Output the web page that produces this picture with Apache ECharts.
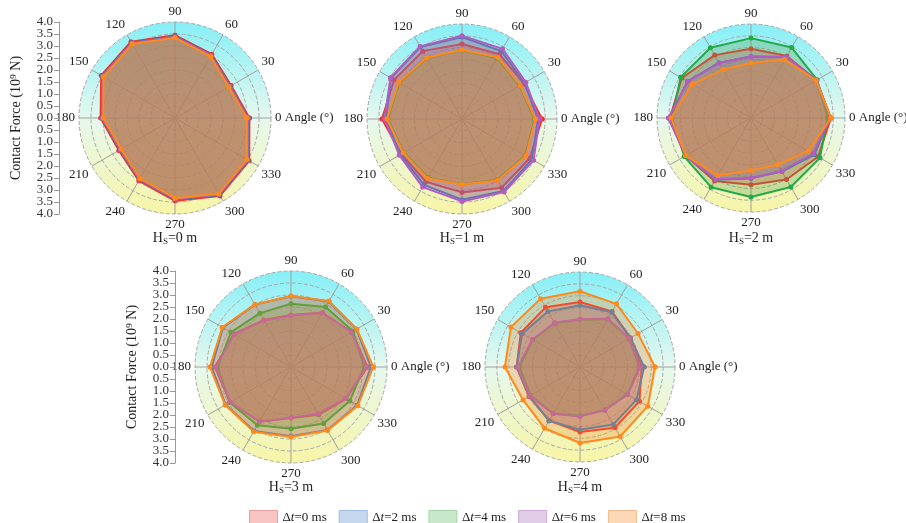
<!DOCTYPE html>
<html><head><meta charset="utf-8">
<script src="https://cdn.jsdelivr.net/npm/echarts/dist/echarts.min.js"></script>
<style>html,body{margin:0;padding:0;background:#fff}#c{width:906px;height:523px}</style>
</head><body><div id="c"></div><script>
const angles = [0, 30, 60, 90, 120, 150, 180, 210, 240, 270, 300, 330];
const seriesNames = ['Δt=0 ms', 'Δt=2 ms', 'Δt=4 ms', 'Δt=6 ms', 'Δt=8 ms'];
const panelTitles = ['0 m', '1 m', '2 m', '3 m', '4 m'];

// Contact force (10^9 N) per angle, rows = Δt 0,2,4,6,8 ms
const hs0 = [
  [3.10, 2.70, 3.07, 3.45, 3.67, 3.55, 3.10, 2.70, 3.02, 3.45, 3.75, 3.57],
  [3.05, 2.65, 3.02, 3.40, 3.62, 3.50, 3.05, 2.65, 2.97, 3.40, 3.70, 3.52],
  [3.03, 2.63, 3.00, 3.38, 3.60, 3.48, 3.03, 2.63, 2.95, 3.38, 3.68, 3.50],
  [3.03, 2.63, 3.00, 3.38, 3.60, 3.48, 3.03, 2.63, 2.95, 3.38, 3.68, 3.50],
  [2.99, 2.59, 2.96, 3.34, 3.56, 3.44, 2.99, 2.59, 2.91, 3.34, 3.64, 3.46]
];
const hs1 = [
  [3.37, 3.00, 3.15, 3.16, 3.30, 3.30, 3.37, 2.95, 3.05, 3.09, 3.34, 3.30],
  [3.20, 3.05, 3.30, 3.45, 3.50, 3.45, 3.20, 3.00, 3.20, 3.40, 3.50, 3.40],
  [3.05, 2.80, 2.95, 2.90, 2.95, 3.05, 3.12, 2.82, 2.85, 2.75, 2.95, 3.08],
  [3.26, 3.10, 3.41, 3.51, 3.53, 3.48, 3.26, 3.05, 3.31, 3.47, 3.55, 3.48],
  [3.09, 2.83, 3.00, 2.92, 2.98, 3.08, 3.16, 2.85, 2.89, 2.76, 2.99, 3.11]
];
const hs2 = [
  [3.40, 3.22, 3.05, 2.95, 3.09, 3.40, 3.45, 3.22, 3.10, 2.84, 3.02, 3.30],
  [3.35, 3.20, 3.00, 2.62, 2.72, 3.12, 3.48, 3.20, 3.03, 2.57, 2.63, 3.12],
  [3.26, 3.25, 3.46, 3.40, 3.45, 3.46, 3.36, 3.28, 3.40, 3.36, 3.39, 3.39],
  [3.38, 3.22, 3.00, 2.62, 2.70, 3.10, 3.52, 3.22, 3.00, 2.55, 2.60, 3.05],
  [3.40, 3.20, 2.87, 2.34, 2.38, 2.88, 3.40, 3.20, 2.83, 2.23, 2.29, 2.82]
];
const hs3 = [
  [3.19, 2.92, 2.62, 2.17, 2.26, 2.75, 3.17, 2.93, 2.63, 2.13, 2.30, 2.65],
  [3.33, 3.15, 3.15, 2.95, 3.00, 3.28, 3.30, 3.15, 3.08, 2.88, 3.03, 3.18],
  [3.05, 2.98, 2.89, 2.64, 2.59, 2.89, 3.06, 2.95, 2.80, 2.57, 2.72, 2.83],
  [3.15, 2.90, 2.60, 2.15, 2.24, 2.73, 3.13, 2.92, 2.63, 2.11, 2.25, 2.62],
  [3.43, 3.17, 3.17, 2.96, 3.01, 3.31, 3.38, 3.17, 3.11, 2.92, 3.05, 3.22]
];
const hs4 = [
  [2.60, 2.45, 2.70, 2.74, 2.90, 2.88, 2.67, 2.48, 2.60, 2.74, 2.95, 2.89],
  [2.70, 2.45, 2.66, 2.60, 2.70, 2.81, 2.67, 2.45, 2.62, 2.64, 2.80, 2.75],
  [2.50, 2.38, 2.33, 2.00, 2.13, 2.30, 2.55, 2.40, 2.26, 2.06, 2.09, 2.30],
  [2.53, 2.40, 2.35, 2.02, 2.15, 2.32, 2.62, 2.43, 2.27, 2.08, 2.10, 2.32],
  [3.16, 2.82, 3.07, 3.19, 3.32, 3.36, 3.16, 2.77, 2.98, 3.20, 3.38, 3.30]
];
const panelData = [hs0, hs1, hs2, hs3, hs4];

const lineColors = ['#f2322c', '#3d7cc4', '#25a846', '#b45cc0', '#ff8a1a'];
const areaColors = ['#f03c30', '#6a7fb0', '#5ea050', '#b06a8a', '#f08a30'];
const legendFills = ['#f9c4c4', '#c6d8ee', '#c9e8cb', '#e2cde8', '#fdd8b6'];
const legendBorders = ['#eaa0a0', '#9fbbe0', '#a3d3a6', '#c9a9d4', '#f3b98a'];

const FONT = 'Liberation Serif';
const layout = [
  {cx: 175, cy: 118, r: 96, ty: 238, axis: true},
  {cx: 462, cy: 119, r: 95, ty: 238, axis: false},
  {cx: 751, cy: 118, r: 94, ty: 238, axis: false},
  {cx: 291, cy: 367, r: 96, ty: 487, axis: true},
  {cx: 580, cy: 367, r: 95, ty: 487, axis: false}
];

const polar = [], angleAxis = [], radiusAxis = [], series = [], graphic = [];
const grid = [], xAxis = [], yAxis = [];

const yLabelStyle = {margin: 6, color: '#333', fontFamily: FONT, fontSize: 13,
  formatter: v => Math.abs(v).toFixed(1)};

layout.forEach((L, p) => {
  polar.push({center: [L.cx, L.cy], radius: [0, L.r]});
  angleAxis.push({
    polarIndex: p, type: 'value', min: 0, max: 360, interval: 30,
    startAngle: 0, clockwise: false,
    axisLine: {show: false}, axisTick: {show: false},
    axisLabel: {
      margin: 4, color: '#222', fontFamily: FONT, fontSize: 13,
      formatter: v => v === 360 ? '' : (v === 0 ? '0 Angle (°)' : String(v))
    },
    splitLine: {show: true, lineStyle: {color: '#a0a0a0', width: 1}}
  });
  radiusAxis.push({
    polarIndex: p, type: 'value', min: 0, max: 4, interval: 0.5,
    axisLine: {show: false}, axisTick: {show: false}, axisLabel: {show: false},
    splitLine: {show: true, lineStyle: {color: '#a8a8a8', type: [4, 2], width: 1}}
  });
  graphic.push({
    type: 'circle', silent: true, z: -10,
    shape: {cx: L.cx, cy: L.cy, r: L.r},
    style: {fill: new echarts.graphic.LinearGradient(0, 0, 0, 1, [
      {offset: 0, color: '#86eff7'},
      {offset: 0.5, color: '#e6f8ee'},
      {offset: 1, color: '#f7f5a6'}
    ])}
  });
  graphic.push({
    type: 'text', silent: true, x: L.cx, y: L.ty,
    style: {
      text: '{h|H}{s|S}{h|=' + panelTitles[p] + '}',
      align: 'center', verticalAlign: 'middle', fill: '#222',
      rich: {
        h: {fontFamily: FONT, fontSize: 14, fill: '#222'},
        s: {fontFamily: FONT, fontSize: 9, fill: '#222', padding: [7, 0, 0, 0]}
      }
    }
  });
  if (L.axis) {
    // whole-number ticks (4.0, 3.0, ... 0.0 ... 4.0)
    let gi = grid.length;
    grid.push({left: L.cx - 116, top: L.cy - L.r, width: 1, height: 2 * L.r});
    xAxis.push({gridIndex: gi, type: 'value', show: false});
    yAxis.push({
      gridIndex: gi, type: 'value', min: -4, max: 4, interval: 1,
      name: 'Contact Force (10⁹ N)', nameLocation: 'middle', nameGap: 36,
      nameRotate: 90,
      nameTextStyle: {fontFamily: FONT, fontSize: 14, color: '#222'},
      axisLine: {show: true, lineStyle: {color: '#999'}},
      axisTick: {show: true, length: 5, lineStyle: {color: '#999'}},
      axisLabel: yLabelStyle,
      splitLine: {show: false}
    });
    // half ticks (3.5, 2.5, ... 0.5 ... 3.5)
    const step = L.r / 8;
    gi = grid.length;
    grid.push({left: L.cx - 116, top: L.cy - L.r + step, width: 1, height: 2 * L.r - 2 * step});
    xAxis.push({gridIndex: gi, type: 'value', show: false});
    yAxis.push({
      gridIndex: gi, type: 'value', min: -3.5, max: 3.5, interval: 1,
      axisLine: {show: false},
      axisTick: {show: true, length: 5, lineStyle: {color: '#999'}},
      axisLabel: yLabelStyle,
      splitLine: {show: false}
    });
  }
  panelData[p].forEach((vals, k) => {
    const data = angles.map((a, j) => [vals[j], a]);
    data.push([vals[0], 360]);
    series.push({
      type: 'line', coordinateSystem: 'polar', polarIndex: p,
      name: seriesNames[k], data: data,
      symbol: 'circle', symbolSize: 5, z: 2 + k,
      lineStyle: {color: lineColors[k], width: 2},
      itemStyle: {color: lineColors[k]},
      areaStyle: {color: areaColors[k], opacity: 0.31}
    });
  });
});

const chart = echarts.init(document.getElementById('c'));
chart.setOption({
  animation: false,
  backgroundColor: '#fff',
  textStyle: {fontFamily: FONT},
  polar, angleAxis, radiusAxis, grid, xAxis, yAxis, series,
  graphic: {elements: graphic},
  legend: {
    top: 505, left: 244, icon: 'rect',
    itemWidth: 28, itemHeight: 15, itemGap: 12,
    selectedMode: false,
    data: seriesNames.map((n, i) => ({
      name: n, itemStyle: {color: legendFills[i], borderColor: legendBorders[i], borderWidth: 1}
    })),
    formatter: n => '{a|Δ}{i|t}{a|' + n.slice(2) + '}',
    textStyle: {
      color: '#222', fontFamily: FONT, fontSize: 13,
      rich: {
        a: {fontFamily: FONT, fontSize: 13, color: '#222'},
        i: {fontFamily: FONT, fontSize: 13, color: '#222', fontStyle: 'italic'}
      }
    }
  }
});
</script></body></html>
